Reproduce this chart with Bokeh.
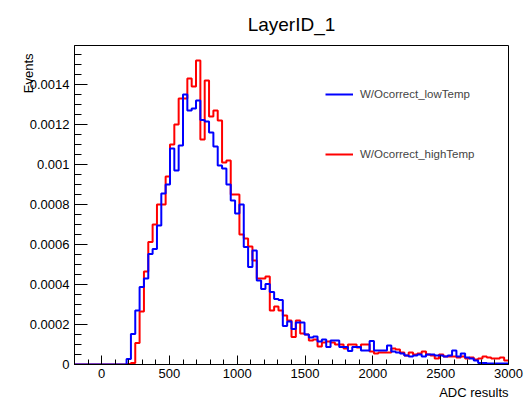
import numpy as np
from bokeh.plotting import figure
from bokeh.models import FixedTicker, Legend, LegendItem, Title
from bokeh.embed import file_html
from bokeh.resources import INLINE

# ---------------- data ----------------
title_text = "LayerID_1"
x_title = "ADC results"
y_title = "Events"
series_names = ["W/Ocorrect_lowTemp", "W/Ocorrect_highTemp"]

hist_min = -200
bin_width = 32
n_bins = 100

low_temp = [
    0, 0, 0, 0, 0, 0, 0, 0, 0, 0, 0, 0,
    0.000028, 0.000153, 0.00027, 0.000387, 0.00043, 0.000553, 0.000578, 0.000695,
    0.000855, 0.0009, 0.00108, 0.00097, 0.001095, 0.00135, 0.00127, 0.00128,
    0.00132, 0.001223, 0.001215, 0.00116, 0.00109, 0.000995, 0.00098, 0.0009,
    0.00082, 0.000755, 0.0008, 0.000587, 0.000487, 0.00057, 0.00042, 0.000378,
    0.000403, 0.000362, 0.000328, 0.000322, 0.000192, 0.000215, 0.000178, 0.00021,
    0.00021, 0.00015, 0.000135, 0.00014, 0.000115, 0.000125, 0.000087, 0.00012,
    0.00012, 0.000087, 0.000087, 0.000068, 0.000087, 0.000087, 0.00007, 0.00007,
    0.000118, 0.00007, 0.00007, 0.00007, 0.000095, 0.000065, 0.00006, 0.000055,
    0.000045, 0.00004, 0.000045, 0.00005, 0.00004, 0.00005, 0.00005, 0.000045,
    0.000045, 0.00004, 0.000045, 0.00007, 0.00004, 0.000055, 0.000035, 0.00003,
    0.00002, 0.000008, 0.000008, 0.000005, 0.000005, 0.000005, 0.000005, 0.000005,
]

high_temp = [
    0, 0, 0, 0, 0, 0, 0, 0, 0, 0, 0, 0,
    0.000003, 0.000008, 0.000107, 0.000265, 0.000465, 0.000612, 0.0007, 0.0008,
    0.0008, 0.00094, 0.0011, 0.0012, 0.00133, 0.00133, 0.00143, 0.00139,
    0.00152, 0.001125, 0.00142, 0.00124, 0.00127, 0.00122, 0.00101, 0.00102,
    0.00085, 0.00085, 0.00065, 0.00063, 0.00059, 0.00052, 0.00043, 0.00043,
    0.00044, 0.00027, 0.00029, 0.00027, 0.000245, 0.00022, 0.000137, 0.00022,
    0.000155, 0.00015, 0.00012, 0.000125, 0.00009, 0.00011, 0.000115, 0.00011,
    0.0001, 0.0001, 0.00008, 0.0001, 0.0001, 0.000085, 0.0001, 0.0001,
    0.000065, 0.000055, 0.00006, 0.00006, 0.00006, 0.00008, 0.000075, 0.00006,
    0.000045, 0.00006, 0.00005, 0.000055, 0.000065, 0.00005, 0.000045, 0.00003,
    0.00005, 0.00004, 0.00004, 0.00004, 0.000035, 0.00004, 0.00003, 0.000035,
    0.000025, 0.00003, 0.00004, 0.000035, 0.00003, 0.00003, 0.000035, 0.00002,
]

x_ticks = [0, 500, 1000, 1500, 2000, 2500, 3000]
x_tick_labels = ["0", "500", "1000", "1500", "2000", "2500", "3000"]
y_ticks = [0, 0.0002, 0.0004, 0.0006, 0.0008, 0.001, 0.0012, 0.0014]
y_tick_labels = ["0", "0.0002", "0.0004", "0.0006", "0.0008", "0.001", "0.0012", "0.0014"]

assert len(low_temp) == n_bins and len(high_temp) == n_bins

# ---------------- layout ----------------
W, H = 527, 401
FL, FR, FT, FB = 74, 508, 45, 364
XMIN, XMAX = -200, 3000
YMIN, YMAX = 0.0, 0.001595
FONT = "Liberation Sans"

p = figure(width=W, height=H, x_range=(XMIN, XMAX), y_range=(YMIN, YMAX),
           output_backend="svg", toolbar_location=None,
           min_border_left=FL, min_border_right=W - FR,
           min_border_top=FT, min_border_bottom=H - FB)
p.xgrid.visible = False
p.ygrid.visible = False
p.outline_line_color = "black"
p.outline_line_width = 1
p.background_fill_color = "white"
p.border_fill_color = "white"

edges = hist_min + bin_width * np.arange(n_bins + 1)
r_high = p.step(x=edges, y=list(high_temp) + [high_temp[-1]], mode="after",
                line_color="#ff0000", line_width=2)
r_low = p.step(x=edges, y=list(low_temp) + [low_temp[-1]], mode="after",
               line_color="#0000ff", line_width=2)

# axes
minor_x = [v for v in range(-200, 3001, 100) if v % 500 != 0]
p.xaxis.ticker = FixedTicker(ticks=x_ticks, minor_ticks=minor_x)
p.xaxis.major_label_overrides = {t: l for t, l in zip(x_ticks, x_tick_labels)}
p.xaxis.major_tick_in = 9
p.xaxis.major_tick_out = 0
p.xaxis.minor_tick_in = 5
p.xaxis.minor_tick_out = 0
p.xaxis.major_label_standoff = 4
p.xaxis.major_label_text_font = FONT
p.xaxis.major_label_text_font_size = "13px"
p.xaxis.major_label_text_color = "black"
p.xaxis.axis_line_color = "black"

minor_y = [i * 0.00005 for i in range(0, 32) if i % 4 != 0]
p.yaxis.ticker = FixedTicker(ticks=y_ticks, minor_ticks=minor_y)
p.yaxis.major_label_overrides = {t: l for t, l in zip(y_ticks, y_tick_labels)}
p.yaxis.major_tick_in = 13
p.yaxis.major_tick_out = 0
p.yaxis.minor_tick_in = 7
p.yaxis.minor_tick_out = 0
p.yaxis.major_label_standoff = 5
p.yaxis.major_label_text_font = FONT
p.yaxis.major_label_text_font_size = "13px"
p.yaxis.major_label_text_color = "black"
p.yaxis.axis_line_color = "black"

# titles (as side panels so they are not clipped by the frame)
p.title = Title(text=title_text, align="center", text_font=FONT,
                text_font_size="19px", text_font_style="normal",
                text_color="black", standoff=22, offset=-3)
p.add_layout(Title(text=x_title, align="right", text_font=FONT,
                   text_font_size="13px", text_font_style="normal",
                   text_color="black", standoff=4), "below")
p.add_layout(Title(text=y_title, align="right", text_font=FONT,
                   text_font_size="13px", text_font_style="normal",
                   text_color="black", standoff=-19, offset=8), "left")

# legend
legend = Legend(items=[LegendItem(label=series_names[0], renderers=[r_low]),
                       LegendItem(label=series_names[1], renderers=[r_high])],
                location=(325 - FL, FB - 164), orientation="vertical",
                padding=0, margin=0, spacing=40, glyph_width=28, glyph_height=20,
                label_height=20, label_standoff=7,
                label_text_font=FONT, label_text_font_size="11.5px",
                border_line_alpha=0, background_fill_alpha=0)
p.add_layout(legend, "center")

open("out.html", "w").write(file_html(p, INLINE))
